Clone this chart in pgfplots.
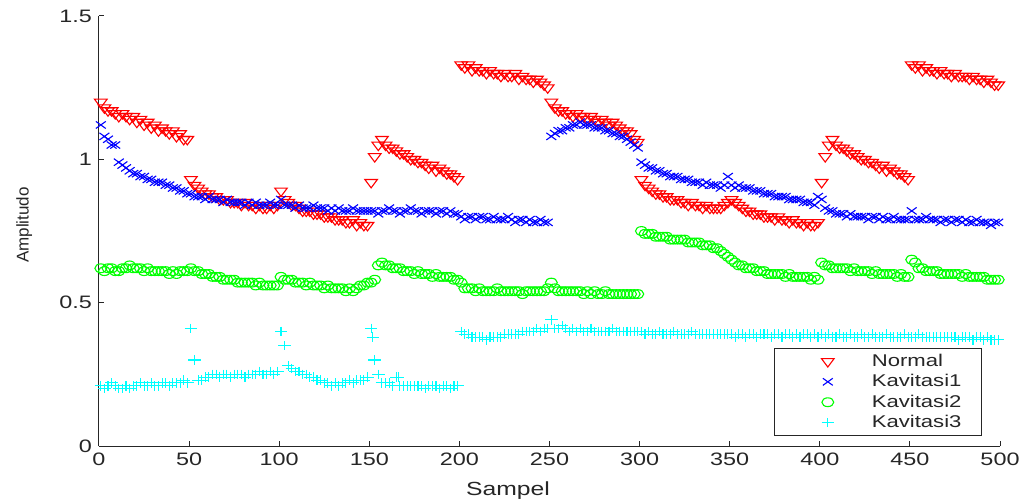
\documentclass[border=0pt]{standalone}
\usepackage{fontspec}
\setmainfont{Liberation Sans}[FakeStretch=1.3]
\newfontfamily\ylabfont{Liberation Sans}
\usepackage{pgfplots}
\usepackage{pgfplotstable}
\pgfplotsset{compat=1.18}
\definecolor{axcol}{RGB}{38,38,38}
\definecolor{cNormal}{RGB}{255,0,0}
\definecolor{cKav1}{RGB}{0,0,255}
\definecolor{cKav2}{RGB}{0,255,0}
\definecolor{cKav3}{RGB}{0,255,255}

% sampel, Normal, Kavitasi1, Kavitasi2, Kavitasi3 (every second sample)
\pgfplotstableread{
x N K1 K2 K3
1 1.20 1.12 0.62 0.21
3 1.18 1.08 0.61 0.20
5 1.17 1.07 0.62 0.21
7 1.17 1.05 0.62 0.22
9 1.16 1.05 0.61 0.21
11 1.15 0.99 0.61 0.20
13 1.16 0.98 0.62 0.20
15 1.15 0.97 0.62 0.21
17 1.14 0.96 0.63 0.20
19 1.15 0.95 0.62 0.21
21 1.13 0.95 0.62 0.21
23 1.14 0.94 0.62 0.22
25 1.12 0.94 0.61 0.21
27 1.13 0.93 0.62 0.21
29 1.11 0.93 0.61 0.22
31 1.12 0.92 0.61 0.21
33 1.10 0.92 0.61 0.21
35 1.11 0.92 0.61 0.22
37 1.10 0.91 0.61 0.22
39 1.09 0.91 0.60 0.21
41 1.10 0.90 0.61 0.22
43 1.08 0.90 0.60 0.22
45 1.09 0.89 0.61 0.22
47 1.07 0.89 0.61 0.23
49 1.07 0.88 0.61 0.22
51 0.93 0.88 0.62 0.41
53 0.91 0.87 0.61 0.30
55 0.90 0.87 0.61 0.23
57 0.89 0.87 0.60 0.23
59 0.88 0.86 0.60 0.24
61 0.88 0.87 0.60 0.24
63 0.87 0.86 0.59 0.25
65 0.87 0.86 0.59 0.25
67 0.86 0.86 0.59 0.24
69 0.86 0.85 0.58 0.25
71 0.86 0.86 0.58 0.25
73 0.85 0.85 0.58 0.24
75 0.85 0.85 0.58 0.25
77 0.85 0.85 0.57 0.25
79 0.84 0.85 0.57 0.25
81 0.85 0.84 0.57 0.24
83 0.84 0.85 0.57 0.25
85 0.84 0.84 0.57 0.25
87 0.83 0.85 0.56 0.25
89 0.84 0.84 0.57 0.26
91 0.83 0.84 0.56 0.25
93 0.83 0.84 0.56 0.25
95 0.84 0.85 0.56 0.26
97 0.83 0.84 0.56 0.25
99 0.84 0.84 0.56 0.26
101 0.89 0.86 0.59 0.40
103 0.86 0.84 0.58 0.35
105 0.85 0.84 0.58 0.28
107 0.84 0.84 0.58 0.27
109 0.84 0.83 0.57 0.26
111 0.83 0.84 0.57 0.26
113 0.82 0.83 0.57 0.25
115 0.82 0.83 0.56 0.25
117 0.82 0.83 0.57 0.24
119 0.81 0.84 0.56 0.24
121 0.81 0.83 0.56 0.23
123 0.81 0.83 0.56 0.23
125 0.80 0.83 0.55 0.22
127 0.80 0.82 0.56 0.22
129 0.80 0.83 0.55 0.21
131 0.79 0.82 0.55 0.22
133 0.79 0.83 0.55 0.21
135 0.79 0.82 0.55 0.22
137 0.78 0.82 0.54 0.22
139 0.78 0.82 0.55 0.23
141 0.79 0.83 0.54 0.22
143 0.77 0.82 0.55 0.23
145 0.78 0.82 0.56 0.23
147 0.77 0.82 0.56 0.23
149 0.77 0.82 0.57 0.24
151 0.92 0.82 0.57 0.41
153 1.01 0.82 0.58 0.30
155 1.05 0.81 0.63 0.25
157 1.07 0.82 0.64 0.22
159 1.05 0.82 0.63 0.22
161 1.04 0.83 0.63 0.22
163 1.04 0.82 0.62 0.21
165 1.03 0.82 0.62 0.24
167 1.02 0.81 0.62 0.21
169 1.02 0.82 0.61 0.21
171 1.01 0.82 0.61 0.21
173 1.00 0.83 0.61 0.21
175 1.00 0.82 0.60 0.21
177 0.99 0.82 0.61 0.21
179 0.99 0.81 0.60 0.21
181 0.98 0.82 0.60 0.20
183 0.97 0.82 0.60 0.21
185 0.98 0.82 0.59 0.21
187 0.96 0.81 0.60 0.21
189 0.97 0.82 0.59 0.20
191 0.96 0.82 0.59 0.21
193 0.95 0.81 0.59 0.21
195 0.95 0.82 0.59 0.20
197 0.94 0.81 0.58 0.21
199 0.93 0.81 0.58 0.21
201 1.33 0.80 0.57 0.40
203 1.32 0.79 0.55 0.39
205 1.33 0.80 0.55 0.39
207 1.31 0.80 0.55 0.38
209 1.32 0.79 0.54 0.38
211 1.31 0.80 0.55 0.38
213 1.31 0.80 0.54 0.38
215 1.30 0.79 0.54 0.37
217 1.31 0.79 0.54 0.38
219 1.30 0.80 0.54 0.38
221 1.30 0.79 0.55 0.38
223 1.29 0.79 0.54 0.38
225 1.30 0.79 0.54 0.39
227 1.29 0.80 0.54 0.39
229 1.29 0.79 0.54 0.39
231 1.30 0.78 0.54 0.39
233 1.28 0.79 0.54 0.39
235 1.29 0.79 0.53 0.40
237 1.28 0.78 0.54 0.40
239 1.28 0.79 0.54 0.40
241 1.27 0.78 0.54 0.40
243 1.28 0.78 0.54 0.41
245 1.27 0.79 0.54 0.40
247 1.26 0.78 0.54 0.41
249 1.25 0.78 0.55 0.41
251 1.20 1.08 0.57 0.44
253 1.18 1.09 0.55 0.41
255 1.17 1.10 0.54 0.41
257 1.17 1.10 0.54 0.42
259 1.16 1.11 0.54 0.41
261 1.16 1.11 0.54 0.40
263 1.15 1.12 0.54 0.41
265 1.16 1.12 0.54 0.40
267 1.15 1.13 0.54 0.41
269 1.15 1.12 0.53 0.40
271 1.14 1.12 0.54 0.40
273 1.15 1.12 0.53 0.41
275 1.14 1.11 0.54 0.40
277 1.13 1.11 0.53 0.40
279 1.14 1.11 0.53 0.40
281 1.13 1.10 0.54 0.40
283 1.12 1.10 0.53 0.40
285 1.13 1.09 0.53 0.41
287 1.12 1.09 0.53 0.40
289 1.11 1.08 0.53 0.40
291 1.10 1.08 0.53 0.40
293 1.10 1.07 0.53 0.40
295 1.09 1.06 0.53 0.40
297 1.07 1.05 0.53 0.40
299 1.06 1.04 0.53 0.40
301 0.93 0.99 0.75 0.40
303 0.91 0.98 0.74 0.39
305 0.90 0.97 0.74 0.40
307 0.89 0.97 0.74 0.39
309 0.88 0.96 0.73 0.39
311 0.88 0.96 0.73 0.40
313 0.87 0.95 0.73 0.39
315 0.87 0.95 0.73 0.39
317 0.86 0.94 0.72 0.39
319 0.86 0.94 0.72 0.40
321 0.86 0.94 0.72 0.39
323 0.85 0.93 0.72 0.39
325 0.85 0.93 0.72 0.39
327 0.84 0.93 0.71 0.39
329 0.85 0.92 0.71 0.40
331 0.84 0.92 0.71 0.39
333 0.84 0.92 0.71 0.39
335 0.83 0.91 0.70 0.39
337 0.84 0.92 0.70 0.39
339 0.83 0.91 0.70 0.39
341 0.83 0.91 0.69 0.39
343 0.83 0.91 0.69 0.39
345 0.83 0.90 0.68 0.39
347 0.84 0.91 0.67 0.39
349 0.85 0.94 0.66 0.39
351 0.86 0.91 0.65 0.39
353 0.85 0.90 0.64 0.38
355 0.84 0.91 0.63 0.39
357 0.83 0.90 0.63 0.39
359 0.82 0.90 0.62 0.38
361 0.82 0.90 0.62 0.39
363 0.81 0.89 0.62 0.39
365 0.81 0.89 0.61 0.38
367 0.81 0.89 0.61 0.39
369 0.80 0.88 0.61 0.39
371 0.80 0.88 0.60 0.39
373 0.80 0.88 0.60 0.38
375 0.79 0.87 0.60 0.39
377 0.80 0.87 0.60 0.39
379 0.79 0.87 0.60 0.38
381 0.79 0.87 0.59 0.39
383 0.78 0.86 0.60 0.39
385 0.79 0.86 0.59 0.38
387 0.78 0.86 0.59 0.39
389 0.78 0.86 0.59 0.38
391 0.77 0.85 0.59 0.39
393 0.78 0.85 0.59 0.39
395 0.77 0.85 0.58 0.38
397 0.77 0.84 0.59 0.39
399 0.78 0.87 0.58 0.38
401 0.92 0.86 0.64 0.39
403 1.01 0.83 0.63 0.38
405 1.05 0.82 0.63 0.39
407 1.07 0.82 0.62 0.38
409 1.05 0.81 0.62 0.38
411 1.04 0.81 0.62 0.39
413 1.04 0.81 0.62 0.38
415 1.03 0.80 0.62 0.38
417 1.02 0.81 0.61 0.39
419 1.02 0.80 0.62 0.38
421 1.01 0.80 0.61 0.38
423 1.00 0.80 0.61 0.39
425 1.00 0.80 0.61 0.38
427 0.99 0.79 0.61 0.38
429 0.99 0.80 0.60 0.39
431 0.98 0.80 0.61 0.38
433 0.97 0.79 0.60 0.38
435 0.98 0.80 0.60 0.38
437 0.96 0.79 0.60 0.39
439 0.97 0.79 0.60 0.38
441 0.96 0.80 0.60 0.38
443 0.95 0.79 0.59 0.38
445 0.95 0.79 0.60 0.38
447 0.94 0.79 0.59 0.39
449 0.93 0.79 0.59 0.38
451 1.33 0.82 0.65 0.38
453 1.32 0.79 0.64 0.38
455 1.33 0.79 0.62 0.39
457 1.31 0.79 0.62 0.38
459 1.32 0.80 0.61 0.38
461 1.31 0.79 0.61 0.38
463 1.31 0.79 0.61 0.38
465 1.30 0.79 0.61 0.38
467 1.31 0.78 0.60 0.38
469 1.30 0.79 0.60 0.38
471 1.30 0.79 0.60 0.38
473 1.29 0.78 0.60 0.38
475 1.30 0.79 0.60 0.38
477 1.29 0.79 0.60 0.37
479 1.29 0.78 0.59 0.38
481 1.29 0.79 0.60 0.38
483 1.28 0.78 0.59 0.38
485 1.29 0.78 0.59 0.37
487 1.28 0.79 0.59 0.38
489 1.28 0.78 0.59 0.38
491 1.27 0.78 0.59 0.37
493 1.28 0.78 0.58 0.38
495 1.27 0.77 0.58 0.37
497 1.26 0.78 0.58 0.37
499 1.26 0.78 0.58 0.37
}\datatbl

\begin{document}
\begin{tikzpicture}
\begin{axis}[
    width=450.5pt, height=215pt, scale only axis,
    xmin=0, xmax=500, ymin=0, ymax=1.5,
    axis lines*=left,
    axis line style={-, draw=axcol, line width=0.5pt},
    xtick={0,50,...,500}, ytick={0,0.5,1,1.5},
    tick align=inside, major tick length=2.5pt,
    tick style={draw=axcol, line width=0.5pt},
    ticklabel style={font=\fontsize{9}{10}\selectfont, text=axcol},
    /pgf/number format/assume math mode=true,
    xlabel={Sampel},
    xlabel style={at={(axis description cs:0.454,0)}, anchor=center, yshift=-22.5pt,
        font=\fontsize{9.5}{11}\selectfont, text=axcol},
    ylabel={Amplitudo},
    ylabel style={at={(axis description cs:-0.083,0.514)}, anchor=center,
        font=\ylabfont\fontsize{8.5}{10}\selectfont, text=axcol},
    clip=false,
    legend cell align=left,
    legend image code/.code={\path[draw=none, fill=none] (0pt,0pt) (47.5pt,0pt);
        \draw[#1, only marks] plot coordinates {(26.5pt,0pt)};},
    legend style={at={(0.980,0.023)}, anchor=south east, draw=axcol, line width=0.5pt,
        font=\fontsize{8.5}{10}\selectfont, text=axcol,
        inner xsep=0pt, inner ysep=1.5pt, row sep=0.2pt,
        nodes={inner sep=1pt, text height=6.5pt, text depth=1.5pt}},
]
\coordinate (ll) at (rel axis cs:0,0);
\coordinate (ur) at (rel axis cs:1,1);
\addplot[only marks, mark=triangle, mark size=2.8pt, cNormal, line width=0.55pt,
    mark options={rotate=180, xscale=1.3}] table[x=x, y=N] {\datatbl};
\addlegendentry{Normal\kern9pt}
\addplot[only marks, mark=x, mark size=2.5pt, cKav1, line width=0.55pt,
    mark options={xscale=1.4}] table[x=x, y=K1] {\datatbl};
\addlegendentry{Kavitasi1\kern9pt}
\addplot[only marks, mark=o, mark size=2.2pt, cKav2, line width=0.55pt,
    mark options={xscale=1.35}] table[x=x, y=K2] {\datatbl};
\addlegendentry{Kavitasi2\kern9pt}
\addplot[only marks, mark=+, mark size=2.4pt, cKav3, line width=0.55pt,
    mark options={xscale=1.3}] table[x=x, y=K3] {\datatbl};
\addlegendentry{Kavitasi3\kern9pt}
\addplot[only marks, mark=+, mark size=2.4pt, cKav3, line width=0.55pt,
    mark options={xscale=1.3}, forget plot] coordinates {(152,0.38)(166,0.24)};
\end{axis}
\pgfresetboundingbox
\path ([xshift=-49.5pt,yshift=-28pt]ll) rectangle ([xshift=11pt,yshift=8pt]ur);
\end{tikzpicture}
\end{document}
